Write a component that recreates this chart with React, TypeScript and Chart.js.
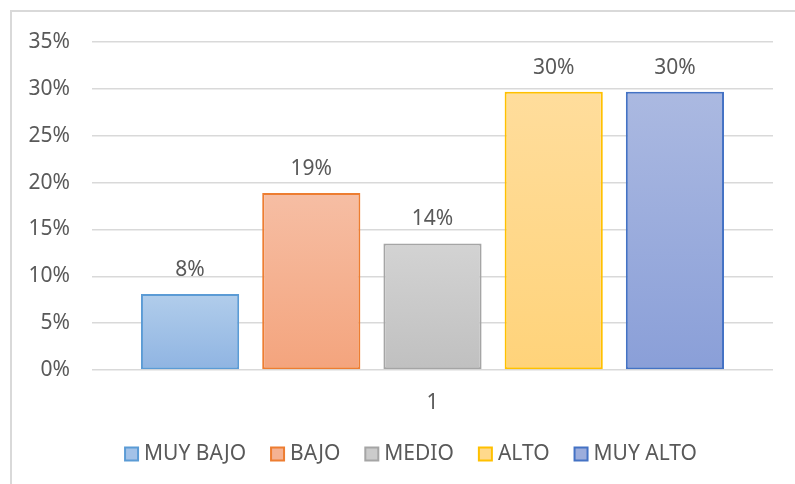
import React, { useEffect, useRef } from "react";
import { Chart, registerables } from "chart.js";

Chart.register(...registerables);

const categories = ["1"];
const seriesNames = ["MUY BAJO", "BAJO", "MEDIO", "ALTO", "MUY ALTO"];
const seriesValues = [8.1, 18.9, 13.5, 29.7, 29.7];
const yTicks = [0, 5, 10, 15, 20, 25, 30, 35];

const gradTop = ["#b1cdeb", "#f6bea4", "#d3d3d3", "#ffdd9c", "#abb9e1"];
const gradBottom = ["#8fb4e2", "#f4a47d", "#c0c0c0", "#ffd37a", "#8a9fd8"];
const borderColors = ["#5b9bd5", "#ed7d31", "#a5a5a5", "#ffc000", "#4472c4"];
const legendFill = ["#a3c2e8", "#f5b292", "#cbcbcb", "#ffd98c", "#9caddc"];

const FONT = "'Noto Sans', sans-serif";
const TEXT = "#595959";

export default function App() {
  const ref = useRef<HTMLCanvasElement | null>(null);

  useEffect(() => {
    const canvas = ref.current;
    if (!canvas) return;

    const framePlugin = {
      id: "frame",
      beforeDraw(chart: any) {
        const c = chart.ctx;
        c.save();
        c.fillStyle = "#ffffff";
        c.fillRect(0, 0, chart.width, chart.height);
        c.strokeStyle = "#d9d9d9";
        c.lineWidth = 2;
        c.beginPath();
        c.moveTo(11, chart.height + 2);
        c.lineTo(11, 11);
        c.lineTo(chart.width + 2, 11);
        c.stroke();
        c.restore();
      },
    };

    const labelPlugin = {
      id: "valueLabels",
      afterDatasetsDraw(chart: any) {
        const c = chart.ctx;
        c.save();
        c.font = `21px ${FONT}`;
        c.fillStyle = TEXT;
        c.textAlign = "center";
        c.textBaseline = "middle";
        chart.data.datasets.forEach((ds: any, i: number) => {
          const meta = chart.getDatasetMeta(i);
          meta.data.forEach((bar: any, j: number) => {
            const v = ds.data[j];
            c.fillText(Math.round(v) + "%", bar.x, bar.y - 24);
          });
        });
        c.restore();
      },
    };

    const legendPlugin = {
      id: "customLegend",
      afterDraw(chart: any) {
        const c = chart.ctx;
        c.save();
        c.font = `21px ${FONT}`;
        const box = 13;
        const gapText = 6;
        const gapItem = 25;
        const widths = seriesNames.map((n) => box + gapText + c.measureText(n).width);
        const total = widths.reduce((a, b) => a + b, 0) + gapItem * (widths.length - 1);
        let x = 411 - total / 2;
        const y = 454;
        seriesNames.forEach((n, i) => {
          c.fillStyle = legendFill[i];
          c.fillRect(x, y - box / 2, box, box);
          c.strokeStyle = borderColors[i];
          c.lineWidth = 2;
          c.strokeRect(x, y - box / 2, box, box);
          c.fillStyle = TEXT;
          c.textAlign = "left";
          c.textBaseline = "middle";
          c.fillText(n, x + box + gapText, y);
          x += widths[i] + gapItem;
        });
        c.restore();
      },
    };

    const datasets = seriesNames.map((name, i) => ({
      label: name,
      data: [seriesValues[i]],
      backgroundColor: (ctx: any) => {
        const chart = ctx.chart;
        const y = chart.scales && chart.scales.y;
        if (!chart.chartArea || !y || ctx.type !== "data" || !ctx.parsed) return legendFill[i];
        const top = y.getPixelForValue(ctx.parsed.y);
        const bottom = y.getPixelForValue(0);
        if (!isFinite(top) || !isFinite(bottom) || top === bottom) return legendFill[i];
        const g = chart.ctx.createLinearGradient(0, top, 0, bottom);
        g.addColorStop(0, gradTop[i]);
        g.addColorStop(1, gradBottom[i]);
        return g;
      },
      borderColor: borderColors[i],
      borderWidth: 2,
      borderSkipped: false,
      categoryPercentage: 0.89,
      barPercentage: 0.81,
    }));

    const chart = new Chart(canvas, {
      type: "bar",
      data: { labels: categories, datasets },
      plugins: [framePlugin, labelPlugin, legendPlugin],
      options: {
        animation: false,
        responsive: false,
        maintainAspectRatio: false,
        layout: { padding: { left: 0, right: 22, top: 42, bottom: 54 } },
        plugins: {
          legend: { display: false },
          tooltip: { enabled: false },
        },
        scales: {
          x: {
            grid: { display: false },
            border: { display: false },
            ticks: {
              color: TEXT,
              font: { family: FONT, size: 21 },
              padding: 12,
            },
            afterFit: (s: any) => {
              s.height = 60;
            },
          },
          y: {
            min: 0,
            max: 35,
            afterBuildTicks: (s: any) => {
              s.ticks = yTicks.map((v) => ({ value: v }));
            },
            grid: { color: "#d9d9d9", lineWidth: 1.5, drawTicks: false },
            border: { display: false },
            ticks: {
              color: TEXT,
              font: { family: FONT, size: 21 },
              padding: 22,
              callback: (v: any) => v + "%",
            },
            afterFit: (s: any) => {
              s.width = 92;
            },
          },
        },
      },
    });

    return () => chart.destroy();
  }, []);

  return (
    <div style={{ position: "fixed", left: 0, top: 0, width: 795, height: 484, background: "#fff" }}>
      <canvas ref={ref} width={795} height={484} style={{ display: "block", width: 795, height: 484 }} />
    </div>
  );
}
